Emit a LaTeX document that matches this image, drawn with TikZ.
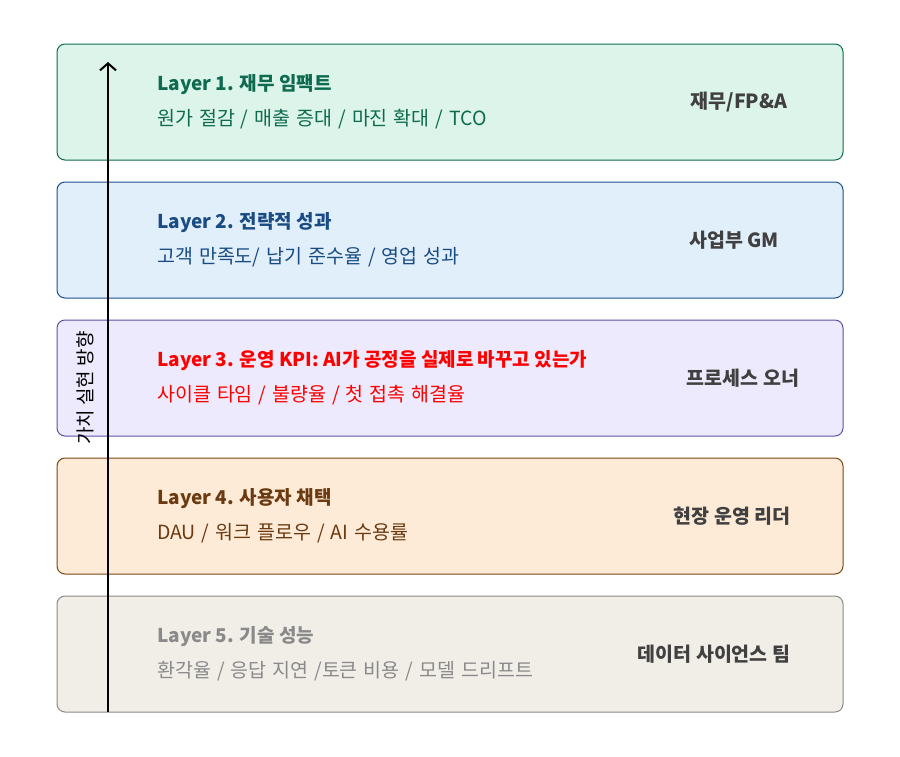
\documentclass[tikz,border=0pt]{standalone}
\usepackage{fontspec}
\setmainfont{Noto Sans CJK KR}
\usetikzlibrary{arrows.meta}
\definecolor{fA}{HTML}{DCF4EA}\definecolor{dA}{HTML}{0E6B4F}
\definecolor{fB}{HTML}{E1EFFB}\definecolor{dB}{HTML}{1B4F8A}
\definecolor{fC}{HTML}{ECEAFC}\definecolor{dC}{HTML}{5B52A6}
\definecolor{fD}{HTML}{FDEBD7}\definecolor{dD}{HTML}{7A4512}
\definecolor{fE}{HTML}{F1EEE8}\definecolor{dE}{HTML}{8A8A8A}
\definecolor{tA}{HTML}{0E6B50}\definecolor{tB}{HTML}{1A4C84}
\definecolor{tC}{HTML}{FF0000}\definecolor{tD}{HTML}{6B3A10}
\definecolor{tE}{HTML}{8A8A8A}\definecolor{own}{HTML}{404040}
\newcommand\mywsp{\spaceskip=6pt plus 1pt minus 1pt\relax}
\tikzset{
  layer/.style={draw=#1, line width=1pt, rounded corners=8pt, minimum width=786pt, minimum height=116pt, inner sep=0pt},
  ttl/.style={anchor=west, inner sep=0pt, font=\fontsize{19}{21}\selectfont\bfseries, text=#1},
  sub/.style={anchor=west, inner sep=0pt, font=\fontsize{19.5}{21}\selectfont\mywsp, text=#1},
  owner/.style={inner sep=0pt, font=\fontsize{19.5}{21}\selectfont\bfseries, text=own},
}
\begin{document}
\begin{tikzpicture}[x=1pt,y=-1pt]
\useasboundingbox (0,0) rectangle (900,756);
\node[layer=dA, fill=fA] (L1) at (450,102) {};
\node[layer=dB, fill=fB] (L2) at (450,240) {};
\node[layer=dC, fill=fC] (L3) at (450,378) {};
\node[layer=dD, fill=fD] (L4) at (450,516) {};
\node[layer=dE, fill=fE] (L5) at (450,654) {};
\node[ttl=tA] (t1) at (157,85) {Layer 1. 재무 임팩트};
\node[sub=tA] (s1) at (157,119) {원가 절감 / 매출 증대 / 마진 확대 / TCO};
\node[ttl=tB] (t2) at (157,223) {Layer 2. 전략적 성과};
\node[sub=tB] (s2) at (157,257) {고객 만족도/ 납기 준수율 / 영업 성과};
\node[ttl=tC] (t3) at (157,361) {Layer 3. 운영 KPI: AI가 공정을 실제로 바꾸고 있는가};
\node[sub=tC] (s3) at (157,395) {사이클 타임 / 불량율 / 첫 접촉 해결율};
\node[ttl=tD] (t4) at (157,499) {Layer 4. 사용자 채택};
\node[sub=tD] (s4) at (157,533) {DAU / 워크 플로우 / AI 수용률};
\node[ttl=tE] (t5) at (157,637) {Layer 5. 기술 성능};
\node[sub=tE] (s5) at (157,671) {환각율 / 응답 지연 /토큰 비용 / 모델 드리프트};
\node[owner] (o1) at (739,102) {재무/FP\&A};
\node[owner] (o2) at (734,240) {사업부 GM};
\node[owner] (o3) at (743,378) {프로세스 오너};
\node[owner] (o4) at (732,516) {현장 운영 리더};
\node[owner] (o5) at (714,654) {데이터 사이언스 팀};
\coordinate (a0) at (108,712);
\coordinate (a1) at (108,62);
\draw[line width=2pt, -{Straight Barb[length=7pt,width=16pt,line width=2pt]}] (a0) -- (a1);
\node[rotate=90, inner sep=0pt, font=\fontsize{19}{21}\selectfont, text=black] (dir) at (85,388) {가치 실현 방향};
\end{tikzpicture}
\end{document}
